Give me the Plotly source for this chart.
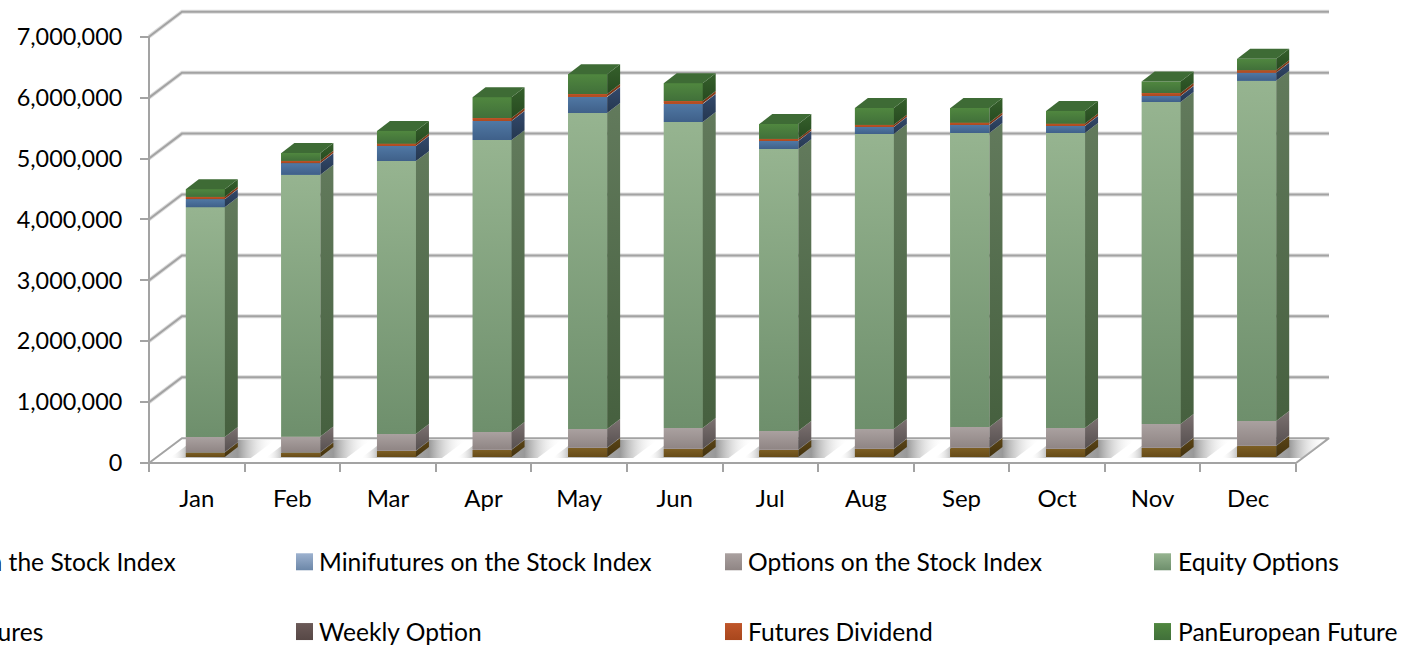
import plotly.graph_objects as go

MONTHS = ["Jan", "Feb", "Mar", "Apr", "May", "Jun", "Jul", "Aug", "Sep", "Oct", "Nov", "Dec"]
TICK_VALUES = [0, 1000000, 2000000, 3000000, 4000000, 5000000, 6000000, 7000000]

FUTURES_INDEX = [74000, 74000, 99000, 115000, 148000, 132000, 115000, 132000, 148000, 132000, 148000, 181000]
MINIFUTURES = [8000, 8000, 8000, 8000, 8000, 8000, 8000, 8000, 8000, 8000, 8000, 8000]
OPTIONS_INDEX = [247000, 255000, 272000, 288000, 305000, 338000, 305000, 321000, 338000, 338000, 387000, 404000]
EQUITY_OPTIONS = [3772000, 4299000, 4480000, 4793000, 5188000, 5024000, 4628000, 4842000, 4826000, 4842000, 5287000, 5584000]
STOCK_FUTURES = [132000, 188000, 247000, 313000, 264000, 296000, 132000, 115000, 132000, 115000, 99000, 132000]
WEEKLY_OPTION = [5000, 5000, 5000, 5000, 5000, 5000, 5000, 5000, 5000, 5000, 5000, 5000]
FUTURES_DIVIDEND = [35000, 38000, 36000, 46000, 42000, 42000, 35000, 35000, 35000, 35000, 42000, 36000]
PAN_EUROPEAN = [125000, 124000, 206000, 340000, 324000, 291000, 240000, 273000, 240000, 207000, 189000, 190000]

SERIES = [
    ("Futures on the Stock Index", FUTURES_INDEX, ("#7c5e24", "#664b18"), ("#5a4415", "#43320f")),
    ("Minifutures on the Stock Index", MINIFUTURES, ("#9db2cf", "#6c87a8"), ("#5f7898", "#4a6080")),
    ("Options on the Stock Index", OPTIONS_INDEX, ("#aaa1a0", "#8f8584"), ("#7b7170", "#575050")),
    ("Equity Options", EQUITY_OPTIONS, ("#96b490", "#6e8f6c"), ("#627a5c", "#46603f")),
    ("Stock Futures", STOCK_FUTURES, ("#5078a4", "#3f6089"), ("#33496c", "#25374f")),
    ("Weekly Option", WEEKLY_OPTION, ("#6b5a58", "#574846"), ("#4a3d3b", "#3a2f2e")),
    ("Futures Dividend", FUTURES_DIVIDEND, ("#c0562a", "#a8471d"), ("#8b3c17", "#6f2f12")),
    ("PanEuropean Future", PAN_EUROPEAN, ("#50873f", "#41703a"), ("#35602b", "#274a20")),
]
TOP_FACE = "#3e6b35"

FONT = "Lato"
TICK_SIZE_Y = 23.4
TICK_SIZE_X = 24
LEGEND_SIZE = 24.6
TEXT = "#000000"
GRID = "#a3a3a3"
GRID_SOFT = "#dcdcdc"

W, H = 1404, 650
PAGE_DY = 2.5                                         # vertical nudge of the whole chart
# page geometry of the projected box
AX_L, AX_B = 149, 462 + PAGE_DY
CAT_PX = (1296 - 149) / 12
VAL_PX = 61.1 / 1e6
PLOT_L, PLOT_R, PLOT_T, PLOT_B = 139, 1342, 2, 476     # drawing area, slightly wider than the box
WALL_DX, WALL_DY = 33 / CAT_PX, 25 / VAL_PX            # depth of the whole floor
BAR_DX, BAR_DY = 8.5 / CAT_PX, 6 / VAL_PX              # where the bar front sits
SIDE_DX, SIDE_DY = 13 / CAT_PX, 10 / VAL_PX            # depth of a bar
BAR_W = 39 / CAT_PX
X0 = -0.5 + (PLOT_L - AX_L) / CAT_PX
X1 = -0.5 + (PLOT_R - AX_L) / CAT_PX
Y0 = (AX_B - PLOT_B) / VAL_PX
Y1 = (AX_B - PLOT_T) / VAL_PX

fig = go.Figure()


def line(xs, ys, color=GRID, width=2):
    fig.add_trace(go.Scatter(x=xs, y=ys, mode="lines", line=dict(color=color, width=width),
                             hoverinfo="skip", showlegend=False, zorder=0))


def face(xs, ys, colors=None, solid=None, z=2):
    kw = dict(fillcolor=solid) if solid else dict(
        fillgradient=dict(type="vertical", colorscale=[[0, colors[1]], [1, colors[0]]]))
    fig.add_trace(go.Scatter(x=xs + xs[:1], y=ys + ys[:1], mode="lines", fill="toself",
                             line=dict(width=0, color="rgba(0,0,0,0)"), hoverinfo="skip",
                             showlegend=False, zorder=z, **kw))


xL, xR = -0.5, 11.5

# floor
fig.add_trace(go.Scatter(x=[xL, xR, xR + WALL_DX, xL + WALL_DX, xL], y=[0, 0, WALL_DY, WALL_DY, 0],
                         mode="lines", fill="toself", fillcolor="#ffffff",
                         line=dict(color=GRID, width=2), hoverinfo="skip", showlegend=False, zorder=0))

# floor shadows cast by the bars
for i in range(12):
    a = i - BAR_W / 2 + BAR_DX
    b = a + BAR_W
    L, R = 16 / CAT_PX, 26 / CAT_PX
    sy0, sy1 = BAR_DY - 1 / VAL_PX, WALL_DY - 1.5 / VAL_PX
    sl = (sy1 - sy0) * (WALL_DX / WALL_DY)
    xs = [a - L, min(b + R, xR + WALL_DX), min(b + R + sl, xR + WALL_DX), a - L + sl]
    xs = [max(v, xL) for v in xs]
    ys = [sy0, sy0, sy1, sy1]
    span = xs[2] - xs[0]
    fig.add_trace(go.Scatter(
        x=xs + xs[:1], y=ys + ys[:1], mode="lines", fill="toself",
        line=dict(width=0, color="rgba(0,0,0,0)"),
        fillgradient=dict(type="horizontal", colorscale=[
            [0, "rgba(255,255,255,0)"], [(a - xs[0]) / span, "rgba(165,165,165,0.65)"],
            [(b + SIDE_DX - xs[0]) / span, "rgba(135,135,135,0.85)"], [1, "rgba(255,255,255,0)"]]),
        hoverinfo="skip", showlegend=False, zorder=0))

# wall and side gridlines
for v in TICK_VALUES[1:]:
    line([xL, xL + WALL_DX, xR + WALL_DX], [v, v + WALL_DY, v + WALL_DY], GRID_SOFT, 4)
    line([xL, xL + WALL_DX, xR + WALL_DX], [v, v + WALL_DY, v + WALL_DY])
line([xL, xL], [0, TICK_VALUES[-1]])

# stacked bars: native bars for the fronts, projected faces for the depth
bases = [BAR_DY] * 12
for name, values, front, side in SERIES:
    fig.add_trace(go.Bar(x=[i + BAR_DX for i in range(12)], y=values, base=list(bases), width=BAR_W,
                         name=name, marker=dict(color=front[0], line=dict(width=0)),
                         showlegend=False, zorder=1,
                         hovertemplate=name + ": %{y:,}<extra></extra>"))
    for i in range(12):
        a = i + BAR_DX - BAR_W / 2
        b = a + BAR_W
        lo, hi = bases[i], bases[i] + values[i]
        face([a, b, b, a], [lo, lo, hi, hi], colors=front)
        face([b, b + SIDE_DX, b + SIDE_DX, b], [lo, lo + SIDE_DY, hi + SIDE_DY, hi], colors=side)
        bases[i] = hi

for i in range(12):
    a = i + BAR_DX - BAR_W / 2
    b = a + BAR_W
    t = bases[i]
    face([a, b, b + SIDE_DX, a + SIDE_DX], [t, t, t + SIDE_DY, t + SIDE_DY], solid=TOP_FACE)

# legend keys and labels, placed on the page as in the source
LEG_SWATCH_X = [None, 296, 725, 1154]
LEG_TEXT_X = [None, 317.5, 746.5, 1176.5]
LEG_FIRST_END = [177, 44]
LEG_ROWS = [563.5, 633.5]
LEG_SWATCH = 17
annotations = []
for idx, (name, _, front, _) in enumerate(SERIES):
    row, col = idx // 4, idx % 4
    if col == 0:
        # the source's first legend column runs off the left of the page
        ax, anchor = LEG_FIRST_END[row], "right"
    else:
        ax, anchor = LEG_TEXT_X[col], "left"
        fig.add_trace(go.Scatter(
            x=[LEG_SWATCH_X[col] + LEG_SWATCH / 2], y=[LEG_ROWS[row]], xaxis="x2", yaxis="y2",
            mode="markers", name=name,
            marker=dict(symbol="square", size=LEG_SWATCH, color=front[0], line=dict(width=0),
                        gradient=dict(type="vertical", color=front[1])),
            hoverinfo="skip", showlegend=False))
    annotations.append(dict(text=name, xref="paper", yref="paper", x=ax / W, y=1 - LEG_ROWS[row] / H,
                            xanchor=anchor, yanchor="middle", showarrow=False, borderpad=0,
                            font=dict(family=FONT, size=LEGEND_SIZE, color=TEXT)))

fig.update_layout(
    width=W, height=H, autosize=False, margin=dict(l=0, r=0, t=0, b=0),
    paper_bgcolor="#ffffff", plot_bgcolor="rgba(0,0,0,0)",
    barmode="overlay", bargap=0, showlegend=False,
    font=dict(family=FONT, size=TICK_SIZE_X, color=TEXT),
    annotations=annotations,
    xaxis=dict(domain=[PLOT_L / W, PLOT_R / W], range=[X0, X1], anchor="free", position=1 - AX_B / H,
               tickmode="array", tickvals=list(range(12)), ticktext=MONTHS,
               tickfont=dict(family=FONT, size=TICK_SIZE_X, color=TEXT),
               ticks="", showgrid=False, zeroline=False, showline=False, ticklabelstandoff=19,
               minor=dict(tickmode="array", tickvals=[i - 0.5 for i in range(13)], ticks="outside",
                          ticklen=8, tickwidth=2, tickcolor=GRID, showgrid=False)),
    yaxis=dict(domain=[1 - PLOT_B / H, 1 - PLOT_T / H], range=[Y0, Y1], anchor="free", position=AX_L / W,
               tickmode="array", tickvals=TICK_VALUES, tickformat=",",
               tickfont=dict(family=FONT, size=TICK_SIZE_Y, color=TEXT),
               ticks="outside", ticklen=9, tickwidth=2, tickcolor=GRID, showgrid=False,
               zeroline=False, showline=False, ticklabelstandoff=13),
    xaxis2=dict(domain=[0, 1], range=[0, W], anchor="y2", visible=False, fixedrange=True),
    yaxis2=dict(domain=[0, 1], range=[H, 0], anchor="x2", visible=False, fixedrange=True),
)
fig.write_html("out.html", config={"displayModeBar": False},
               post_script="document.body.style.margin='0';")
